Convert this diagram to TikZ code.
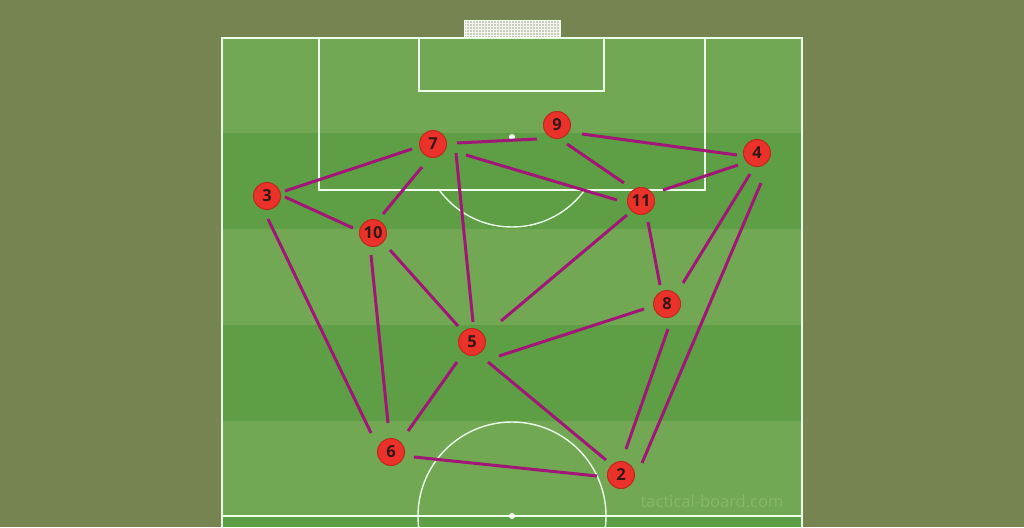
\documentclass[tikz,border=0pt]{standalone}
\usepackage{fontspec}
\usetikzlibrary{calc}
\newfontfamily\numfont{Open Sans}
\definecolor{bgc}{RGB}{118,132,82}
\definecolor{lightg}{RGB}{114,168,83}
\definecolor{darkg}{RGB}{94,158,69}
\definecolor{linkc}{RGB}{162,22,120}
\definecolor{nodefill}{RGB}{234,50,42}
\definecolor{nodeedge}{RGB}{190,40,30}
\definecolor{numc}{RGB}{55,22,22}
\definecolor{wmark}{RGB}{136,182,106}
\definecolor{netc}{RGB}{200,205,188}
\tikzset{
  player/.style={circle, fill=nodefill, draw=nodeedge, line width=1pt, minimum size=27pt, inner sep=0pt,
    font=\numfont\bfseries\fontsize{16.5}{16.5}\selectfont, text=numc},
  link/.style={draw=linkc, line width=3pt},
  pitchline/.style={draw=white!92!green, line width=1.4pt}
}
\begin{document}
\begin{tikzpicture}[x=1pt,y=-1pt]
\useasboundingbox (0,0) rectangle (1024,527);
\fill[bgc] (0,0) rectangle (1024,527);
\begin{scope}
\clip (0,0) rectangle (1024,527);
% stripes
\fill[lightg] (222,38) rectangle (802,133);
\fill[darkg] (222,133) rectangle (802,229);
\fill[lightg] (222,229) rectangle (802,325);
\fill[darkg] (222,325) rectangle (802,421);
\fill[lightg] (222,421) rectangle (802,516);
\fill[darkg] (222,516) rectangle (802,527);
% goal
\fill[netc] (464,21) rectangle (560,38);
\foreach \gx in {466,469,...,560} \draw[white!80!netc, line width=0.4pt] (\gx,21) -- (\gx,38);
\foreach \gy in {23,26,...,38} \draw[white!80!netc, line width=0.4pt] (464,\gy) -- (560,\gy);
\draw[pitchline, line width=1pt] (464,38) -- (464,21) -- (560,21) -- (560,38);
% pitch lines
\draw[pitchline] (222,540) -- (222,38) -- (802,38) -- (802,540);
\draw[pitchline] (222,516) -- (802,516);
\draw[pitchline] (319,38) -- (319,190) -- (705,190) -- (705,38);
\draw[pitchline] (419,38) -- (419,91) -- (604,91) -- (604,38);
\begin{scope}
\clip (222,190) rectangle (802,300);
\draw[pitchline] (512,137) circle (90);
\end{scope}
\draw[pitchline] (512,516) circle (94);
\fill[white] (512,137) circle (3);
\fill[white] (512,516) circle (3);
\end{scope}
% watermark
\node[font=\numfont\fontsize{16.5}{16.5}\selectfont, text=wmark] (wm) at (712,501) {tactical-board.com};
% players
\node[player] (p3) at (267,196) {3};
\node[player] (p7) at (433,144) {7};
\node[player] (p9) at (557,125) {9};
\node[player] (p4) at (757,153) {4};
\node[player] (p11) at (641,201) {11};
\node[player] (p10) at (373,233) {10};
\node[player] (p8) at (667,304) {8};
\node[player] (p5) at (472,342) {5};
\node[player] (p6) at (391,452) {6};
\node[player] (p2) at (621,475) {2};
% links (each end offset from its player)
\foreach \a/\ax/\ay/\b/\bx/\by in {
  p3/18/-5/p7/-21/5,
  p3/18/1/p10/-20/-5,
  p3/1/23/p6/-20/-19,
  p7/-11/23/p10/10/-19,
  p7/24/-1/p9/-20/14,
  p7/23/9/p5/1/-20,
  p7/33/11/p11/-24/-1,
  p9/10/19/p11/-17/-18,
  p9/25/9/p4/-20/2,
  p4/-19/12/p11/22/-11,
  p4/-7/21/p8/16/-21,
  p4/4/30/p2/21/-12,
  p11/7/21/p8/-7/-19,
  p11/-14/14/p5/29/-21,
  p10/17/17/p5/-14/-16,
  p10/-2/22/p6/-3/-29,
  p5/27/14/p8/-23/5,
  p5/-15/20/p6/17/-21,
  p5/16/20/p2/-15/-15,
  p6/23/5/p2/-24/1,
  p8/1/25/p2/5/-26}
  \draw[link] ($(\a)+(\ax,\ay)$) -- ($(\b)+(\bx,\by)$);
\end{tikzpicture}
\end{document}
